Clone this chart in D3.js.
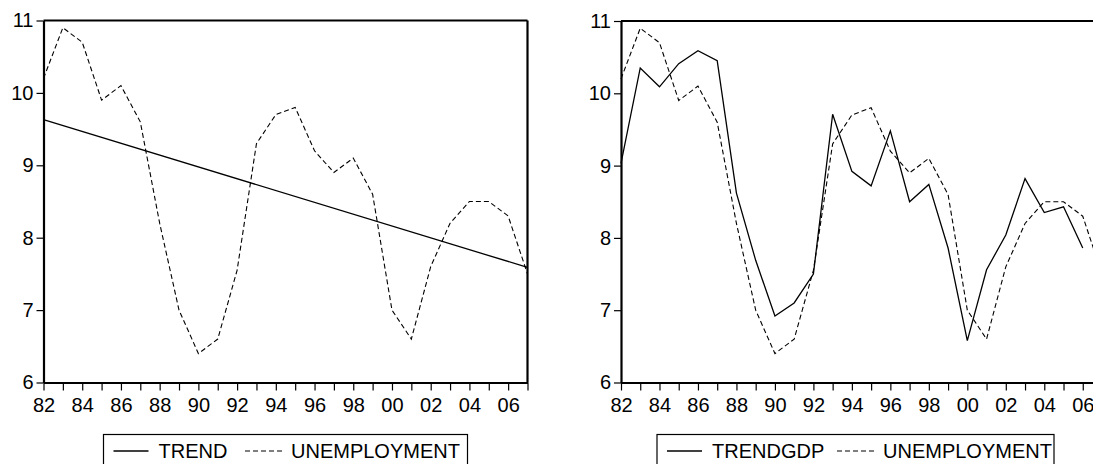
<!DOCTYPE html>
<html>
<head>
<meta charset="utf-8">
<script src="https://cdn.jsdelivr.net/npm/d3@7"></script>
<style>
  html, body { margin: 0; padding: 0; background: #fff; }
  svg { display: block; }
  text { font-family: "Liberation Sans", Arial, sans-serif; fill: #000; }
</style>
</head>
<body>
<svg id="chart" width="1093" height="464"></svg>
<script>
// ---- data ----
const years = [1982,1983,1984,1985,1986,1987,1988,1989,1990,1991,1992,1993,1994,1995,1996,1997,1998,1999,2000,2001,2002,2003,2004,2005,2006,2007];
const unemployment = [10.2,10.9,10.7,9.9,10.1,9.6,8.2,7.0,6.4,6.6,7.55,9.3,9.7,9.8,9.2,8.9,9.1,8.6,7.0,6.6,7.6,8.2,8.5,8.5,8.3,7.5];
const trendYears = [1982, 2007];
const trendValues = [9.63, 7.59];
const gdpYears = [1982,1983,1984,1985,1986,1987,1988,1989,1990,1991,1992,1993,1994,1995,1996,1997,1998,1999,2000,2001,2002,2003,2004,2005,2006];
const trendGdp = [9.03,10.35,10.09,10.41,10.59,10.45,8.62,7.69,6.92,7.10,7.50,9.71,8.92,8.72,9.48,8.50,8.74,7.86,6.58,7.56,8.04,8.82,8.35,8.43,7.86];
const xTickYears = [1982,1984,1986,1988,1990,1992,1994,1996,1998,2000,2002,2004,2006];
const yTicks = [6,7,8,9,10,11];
const legendLeft = ["TREND", "UNEMPLOYMENT"];
const legendRight = ["TRENDGDP", "UNEMPLOYMENT"];

const svg = d3.select("#chart");

function panel(opts) {
  const g = svg.append("g");
  const x = d3.scaleLinear().domain([1982, 2007]).range([opts.x0, opts.x1]);
  const y = d3.scaleLinear().domain([6, 11]).range([opts.yb, opts.yt]);

  // x axis
  const xa = g.append("g").attr("transform", `translate(0,${opts.yb})`)
    .call(d3.axisBottom(x).tickValues(years).tickSize(8).tickSizeOuter(0)
      .tickFormat(d => xTickYears.includes(d) ? String(d).slice(2) : ""));
  xa.select(".domain").attr("stroke", "#000").attr("stroke-width", 2.2);
  xa.selectAll(".tick line").attr("stroke", "#000").attr("stroke-width", 1.2);
  xa.selectAll(".tick text").attr("font-size", 20).attr("dy", 0).attr("y", 29);

  // y axis
  const ya = g.append("g").attr("transform", `translate(${opts.x0},0)`)
    .call(d3.axisLeft(y).tickValues(yTicks).tickSize(7).tickSizeOuter(0).tickFormat(d3.format("d")));
  ya.select(".domain").attr("stroke", "#000").attr("stroke-width", 2.2);
  ya.selectAll(".tick line").attr("stroke", "#000").attr("stroke-width", 1.2);
  ya.selectAll(".tick text").attr("font-size", 20).attr("x", -10);

  // frame top / right
  g.append("line").attr("x1", x(1982)).attr("x2", x(2007)).attr("y1", opts.yt).attr("y2", opts.yt)
    .attr("stroke", "#000").attr("stroke-width", 2.2);
  g.append("line").attr("x1", x(2007)).attr("x2", x(2007)).attr("y1", opts.yt).attr("y2", opts.yb)
    .attr("stroke", "#000").attr("stroke-width", 2.2);

  const line = d3.line().x(d => x(d[0])).y(d => y(d[1]));
  g.append("path").datum(opts.solidX.map((yr, i) => [yr, opts.solidY[i]]))
    .attr("d", line).attr("fill", "none").attr("stroke", "#000").attr("stroke-width", 1.3);
  g.append("path").datum(years.map((yr, i) => [yr, unemployment[i]]))
    .attr("d", line).attr("fill", "none").attr("stroke", "#000").attr("stroke-width", 1.1)
    .attr("stroke-dasharray", "5,3");

  // legend
  const lg = g.append("g");
  lg.append("rect").attr("x", opts.lx).attr("y", 434.5).attr("width", opts.lw).attr("height", 40)
    .attr("fill", "#fff").attr("stroke", "#000").attr("stroke-width", 1.2);
  const ly = 451;
  lg.append("line").attr("x1", opts.lx + 10).attr("x2", opts.lx + 45).attr("y1", ly).attr("y2", ly)
    .attr("stroke", "#000").attr("stroke-width", 1.3);
  lg.append("text").attr("x", opts.lx + 55).attr("y", ly).attr("dy", "0.36em").attr("font-size", 20)
    .text(opts.labels[0]);
  lg.append("line").attr("x1", opts.l2).attr("x2", opts.l2 + 38).attr("y1", ly).attr("y2", ly)
    .attr("stroke", "#000").attr("stroke-width", 1.1).attr("stroke-dasharray", "5,3");
  lg.append("text").attr("x", opts.l2 + 46).attr("y", ly).attr("dy", "0.36em").attr("font-size", 20)
    .text(opts.labels[1]);
}

panel({ x0: 43.5, x1: 527.5, yt: 20.5, yb: 382.5, solidX: trendYears, solidY: trendValues,
        lx: 103.5, lw: 364, l2: 245, labels: legendLeft });
panel({ x0: 621, x1: 1102, yt: 21, yb: 382.5, solidX: gdpYears, solidY: trendGdp,
        lx: 657, lw: 397, l2: 837, labels: legendRight });
</script>
</body>
</html>
